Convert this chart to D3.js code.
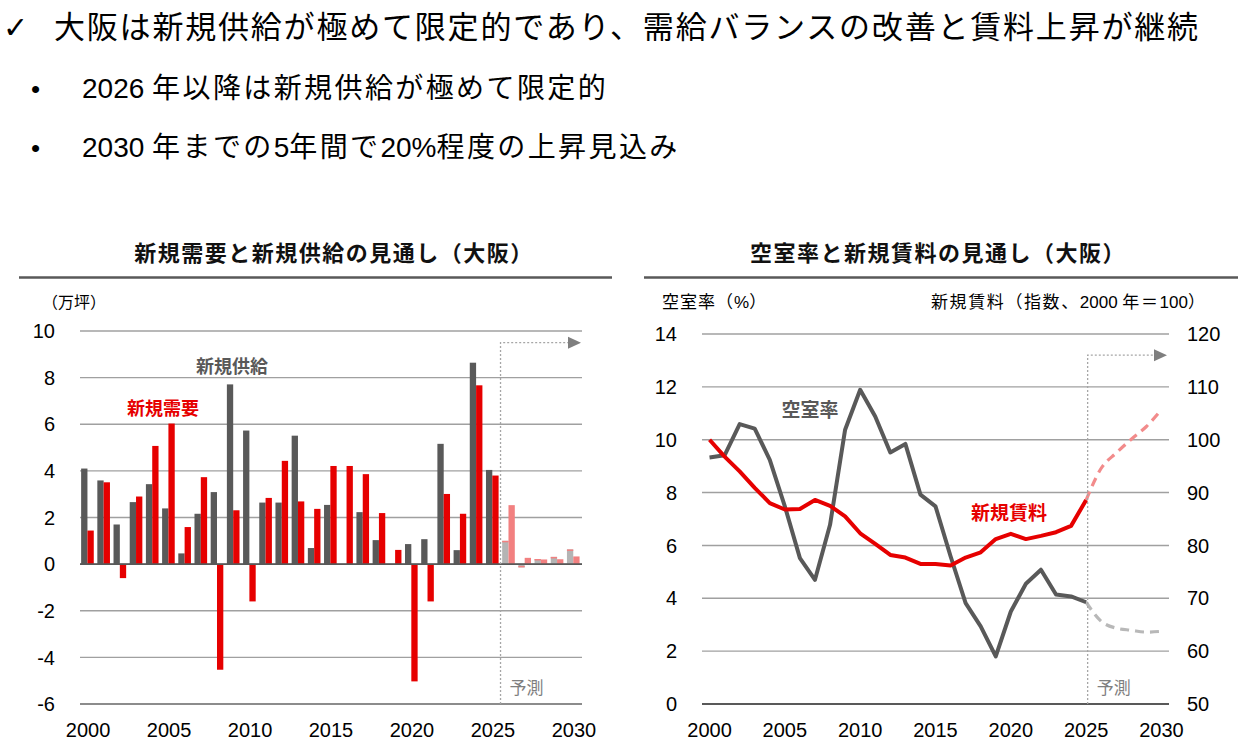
<!DOCTYPE html>
<html>
<head>
<meta charset="utf-8">
<script src="https://cdn.jsdelivr.net/npm/d3@7/dist/d3.min.js"></script>
<style>
  body { margin: 0; background: #fff; }
  text { font-family: "Liberation Sans", "Noto Sans CJK JP", sans-serif; }
</style>
</head>
<body>
<script>
// years shared by both charts
const years = [2000, 2001, 2002, 2003, 2004, 2005, 2006, 2007, 2008, 2009,
  2010, 2011, 2012, 2013, 2014, 2015, 2016, 2017, 2018, 2019,
  2020, 2021, 2022, 2023, 2024, 2025, 2026, 2027, 2028, 2029, 2030];
const lastActual = 2025;
const yearTicks = [2000, 2005, 2010, 2015, 2020, 2025, 2030];

// left chart (万坪)
const supply = [4.1, 3.59, 1.7, 2.66, 3.43, 2.39, 0.46, 2.16, 3.09, 7.71,
  5.73, 2.64, 2.64, 5.51, 0.69, 2.54, 0, 2.23, 1.03, 0,
  0.86, 1.07, 5.16, 0.6, 8.64, 4.04, 1.0, -0.14, 0.22, 0.31, 0.63];
const demand = [1.44, 3.51, -0.6, 2.9, 5.07, 6.03, 1.59, 3.73, -4.53, 2.31,
  -1.6, 2.84, 4.43, 2.69, 2.37, 4.21, 4.21, 3.86, 2.19, 0.61,
  -5.03, -1.6, 3.01, 2.16, 7.67, 3.8, 2.53, 0.27, 0.2, 0.21, 0.33];
const barTicks = [-6, -4, -2, 0, 2, 4, 6, 8, 10];

// right chart
const vacancy = [9.33, 9.41, 10.59, 10.42, 9.24, 7.48, 5.52, 4.7, 6.78, 10.38,
  11.89, 10.88, 9.52, 9.84, 7.92, 7.48, 5.59, 3.82, 2.94, 1.8,
  3.5, 4.55, 5.08, 4.14, 4.07, 3.85, 3.13, 2.87, 2.79, 2.72, 2.75];
const rent = [100, 96.8, 94.0, 90.9, 88.0, 86.8, 86.9, 88.6, 87.5, 85.5,
  82.3, 80.3, 78.2, 77.7, 76.5, 76.5, 76.2, 77.7, 78.7, 81.2,
  82.2, 81.2, 81.8, 82.5, 83.7, 88.6, 94.6, 97.5, 100.1, 102.5, 105.7];
const vacTicks = [0, 2, 4, 6, 8, 10, 12, 14];
const rentTicks = [50, 60, 70, 80, 90, 100, 110, 120];

const DARK = "#595959", RED = "#e60000", PINK = "#f28080";

const svg = d3.select("body").append("svg")
  .attr("width", 1241).attr("height", 745);

// text with extra spacing only on the Japanese runs
function spacedText(sel, str, spacing) {
  const runs = str.match(/[\x00-\x7F]+|[^\x00-\x7F]+/g);
  runs.forEach(r => {
    sel.append("tspan")
      .attr("letter-spacing", /[^\x00-\x7F]/.test(r) ? spacing : 0)
      .text(r);
  });
  return sel;
}

// header
svg.append("text").attr("x", 3).attr("y", 38)
  .style("font-family", "DejaVu Sans").attr("font-size", 30).text("✓");
svg.append("text").attr("x", 54).attr("y", 38).attr("font-size", 31)
  .attr("letter-spacing", 1.8)
  .text("大阪は新規供給が極めて限定的であり、需給バランスの改善と賃料上昇が継続");
const bullets = ["2026 年以降は新規供給が極めて限定的", "2030 年までの5年間で20%程度の上昇見込み"];
bullets.forEach((b, i) => {
  const y = 98 + i * 59;
  svg.append("text").attr("x", 31).attr("y", y).attr("font-size", 26).text("•");
  spacedText(svg.append("text").attr("x", 82).attr("y", y).attr("font-size", 28), b, 2.4);
});

function panelHeader(title, cx, x1, x2) {
  svg.append("text").attr("x", cx).attr("y", 261).attr("text-anchor", "middle")
    .attr("font-size", 22).attr("letter-spacing", 1.5)
    .attr("font-weight", "bold").attr("fill", "#111").text(title);
  svg.append("line").attr("x1", x1).attr("x2", x2).attr("y1", 277.5).attr("y2", 277.5)
    .attr("stroke", DARK).attr("stroke-width", 2.5);
}

function forecastMark(x, yTop, xEnd, yBottom, labelY) {
  const g = svg.append("g");
  g.append("path")
    .attr("d", `M${x},${yBottom}V${yTop}H${xEnd - 12}`)
    .attr("fill", "none").attr("stroke", "#a6a6a6").attr("stroke-width", 1.3)
    .attr("stroke-dasharray", "2,2");
  g.append("path")
    .attr("d", `M${xEnd - 13},${yTop - 6}L${xEnd},${yTop}L${xEnd - 13},${yTop + 6}Z`)
    .attr("fill", "#7f7f7f");
  g.append("text").attr("x", x + 9).attr("y", labelY).attr("font-size", 17)
    .attr("fill", "#7f7f7f").text("予測");
}

// ---------- left chart: 新規需要と新規供給 ----------
panelHeader("新規需要と新規供給の見通し（大阪）", 334, 19, 612);
svg.append("text").attr("x", 42).attr("y", 308).attr("font-size", 16).text("（万坪）");

const xL = d3.scaleBand().domain(years).range([80, 582]);
const xSub = d3.scaleBand().domain(["supply", "demand"])
  .range([xL.bandwidth() * 0.07, xL.bandwidth() * 0.85]);
const yL = d3.scaleLinear().domain([-6, 10]).range([704, 331]);

const left = svg.append("g");
left.selectAll(".grid").data(barTicks).enter().append("line")
  .attr("x1", 80).attr("x2", 582)
  .attr("y1", d => yL(d)).attr("y2", d => yL(d))
  .attr("stroke", d => d === -6 ? "#8c8c8c" : "#a0a0a0")
  .attr("stroke-width", d => d === -6 ? 2 : 1.4);
left.selectAll(".ylab").data(barTicks).enter().append("text")
  .attr("x", 55).attr("y", d => yL(d)).attr("dy", "0.36em")
  .attr("text-anchor", "end").attr("font-size", 20).text(d => d);

const barRows = years.map((yr, i) => [
  { yr, key: "supply", v: supply[i] },
  { yr, key: "demand", v: demand[i] }
]).flat();
const barColor = d => d.yr > lastActual
  ? (d.key === "supply" ? "#b4b4b4" : PINK)
  : (d.key === "supply" ? DARK : RED);

left.selectAll(".bar").data(barRows).enter().append("rect")
  .attr("x", d => xL(d.yr) + xSub(d.key))
  .attr("width", xSub.bandwidth())
  .attr("y", d => yL(Math.max(0, d.v)))
  .attr("height", d => Math.abs(yL(d.v) - yL(0)))
  .attr("fill", barColor);
// pinkish caps on forecast supply bars
left.selectAll(".cap").data(barRows.filter(d => d.yr > lastActual && d.key === "supply")).enter()
  .append("rect")
  .attr("x", d => xL(d.yr) + xSub(d.key))
  .attr("width", xSub.bandwidth())
  .attr("y", d => d.v >= 0 ? yL(d.v) : yL(d.v) - 1.5)
  .attr("height", 1.5)
  .attr("fill", PINK);

left.append("line").attr("x1", 80).attr("x2", 582)
  .attr("y1", yL(0)).attr("y2", yL(0)).attr("stroke", DARK).attr("stroke-width", 1.6);

left.selectAll(".xlab").data(yearTicks).enter().append("text")
  .attr("x", d => xL(d) + xL.bandwidth() / 2).attr("y", 737)
  .attr("text-anchor", "middle").attr("font-size", 20).text(d => d);

left.append("text").attr("x", 232).attr("y", 373).attr("text-anchor", "middle")
  .attr("font-size", 18).attr("font-weight", "bold").attr("fill", DARK).text("新規供給");
left.append("text").attr("x", 163).attr("y", 415).attr("text-anchor", "middle")
  .attr("font-size", 18).attr("font-weight", "bold").attr("fill", RED).text("新規需要");

forecastMark(xL(lastActual + 1) - 0.5, yL(9.5), 581, 704, 694);

// ---------- right chart: 空室率と新規賃料 ----------
panelHeader("空室率と新規賃料の見通し（大阪）", 938, 644, 1238);
spacedText(svg.append("text").attr("x", 662).attr("y", 308).attr("font-size", 17),
  "空室率（%）", 1);
spacedText(svg.append("text").attr("x", 931).attr("y", 308).attr("font-size", 17),
  "新規賃料（指数、2000 年＝100）", 1.6);

const xR = d3.scaleBand().domain(years).range([702, 1169]);
const cx = yr => xR(yr) + xR.bandwidth() / 2;
const yV = d3.scaleLinear().domain([0, 14]).range([704, 334]);
const yR = d3.scaleLinear().domain([50, 120]).range([704, 334]);

const right = svg.append("g");
right.selectAll(".grid").data(vacTicks).enter().append("line")
  .attr("x1", 702).attr("x2", 1169)
  .attr("y1", d => yV(d)).attr("y2", d => yV(d))
  .attr("stroke", d => d === 0 ? DARK : "#a0a0a0")
  .attr("stroke-width", d => d === 0 ? 2 : 1.4);
right.selectAll(".ylab").data(vacTicks).enter().append("text")
  .attr("x", 677).attr("y", d => yV(d)).attr("dy", "0.36em")
  .attr("text-anchor", "end").attr("font-size", 20).text(d => d);
right.selectAll(".rlab").data(rentTicks).enter().append("text")
  .attr("x", 1187).attr("y", d => yR(d)).attr("dy", "0.36em")
  .attr("font-size", 20).text(d => d);
right.selectAll(".xlab").data(yearTicks).enter().append("text")
  .attr("x", d => cx(d)).attr("y", 737)
  .attr("text-anchor", "middle").attr("font-size", 20).text(d => d);

forecastMark(cx(lastActual) + 1.5, yV(13.2), 1167, 704, 694);

function drawLine(values, yScale, color, faded) {
  const pts = years.map((yr, i) => ({ yr, v: values[i] }));
  const actual = pts.filter(d => d.yr <= lastActual);
  const fc = pts.filter(d => d.yr >= lastActual);
  right.append("path").datum(fc)
    .attr("d", d3.line().x(d => cx(d.yr)).y(d => yScale(d.v)).curve(d3.curveMonotoneX))
    .attr("fill", "none").attr("stroke", faded).attr("stroke-width", 3.2)
    .attr("stroke-dasharray", "9,6");
  right.append("path").datum(actual)
    .attr("d", d3.line().x(d => cx(d.yr)).y(d => yScale(d.v)))
    .attr("fill", "none").attr("stroke", color).attr("stroke-width", 4)
    .attr("stroke-linejoin", "round");
}
drawLine(vacancy, yV, DARK, "#b8b8b8");
drawLine(rent, yR, RED, "#f28b8b");

right.append("text").attr("x", 810).attr("y", 417).attr("text-anchor", "middle")
  .attr("font-size", 19).attr("font-weight", "bold").attr("fill", DARK).text("空室率");
right.append("text").attr("x", 1009).attr("y", 520).attr("text-anchor", "middle")
  .attr("font-size", 19).attr("font-weight", "bold").attr("fill", RED).text("新規賃料");
</script>
</body>
</html>
